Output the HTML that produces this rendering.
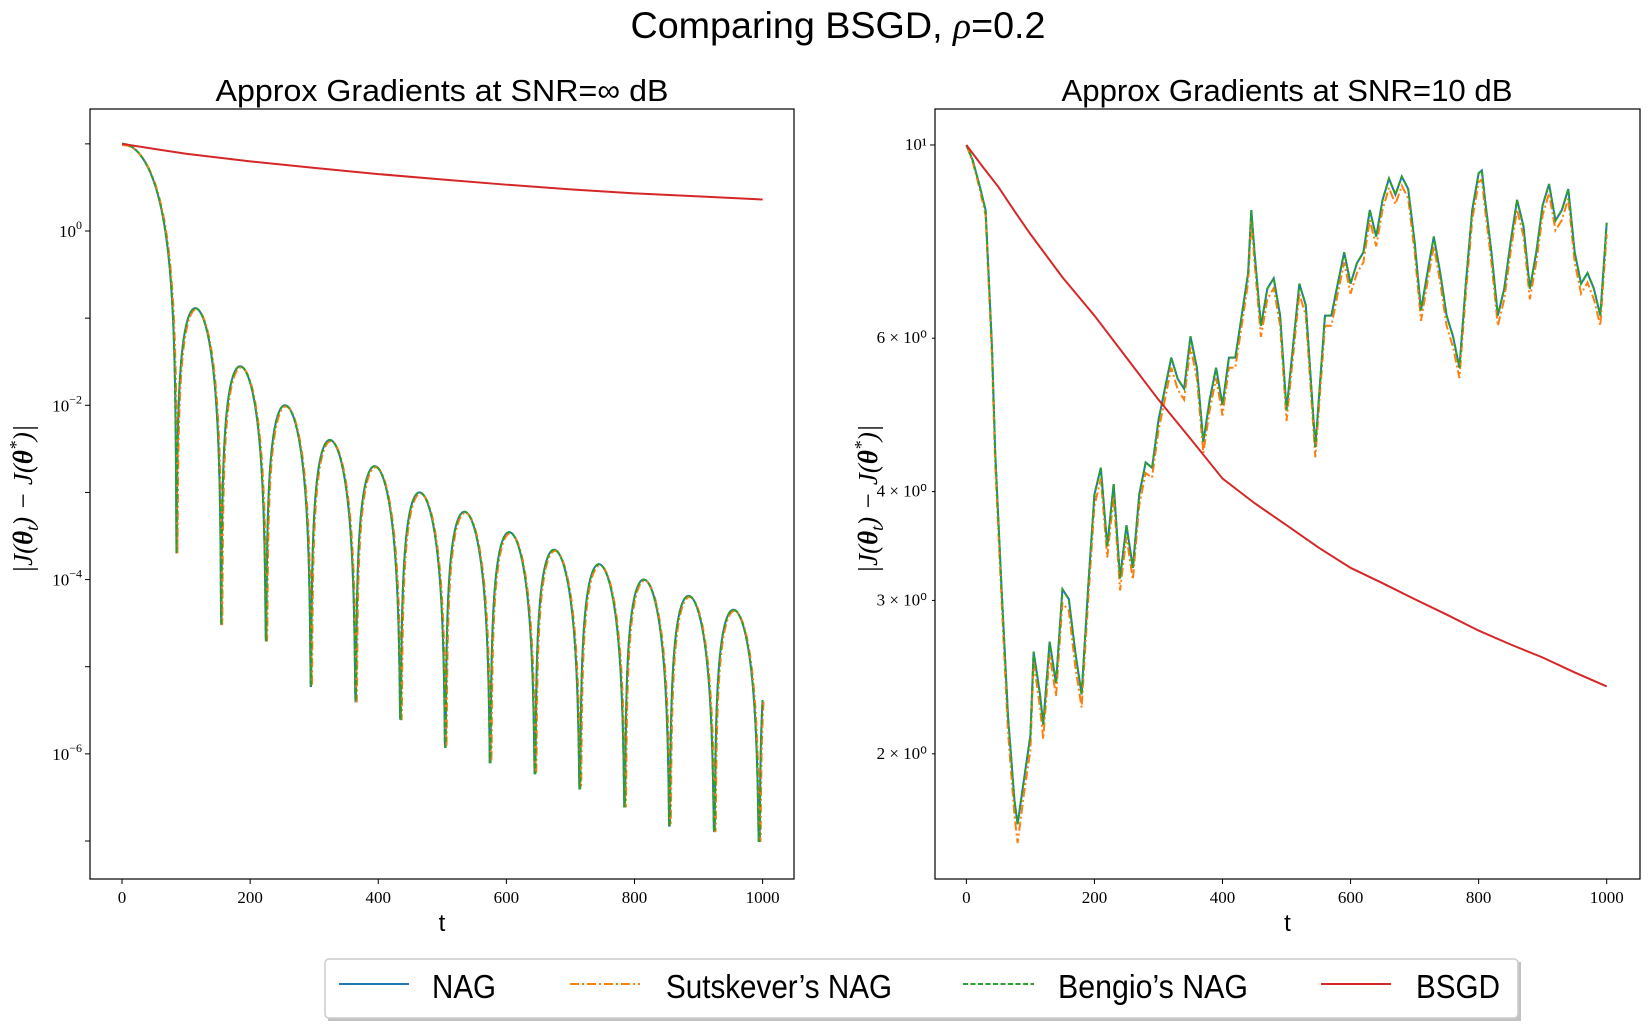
<!DOCTYPE html>
<html><head><meta charset="utf-8"><style>
html,body{margin:0;padding:0;background:#fff;}
svg{display:block;}
.tk{font-family:"Liberation Serif",serif;font-size:17px;fill:#000;}
.ttl{font-family:"Liberation Sans",sans-serif;fill:#000;}
</style></head><body>
<svg id="fig" width="1649" height="1027" viewBox="0 0 1649 1027" xmlns="http://www.w3.org/2000/svg">
<text class="ttl" x="838" y="38" font-size="37" text-anchor="middle" textLength="415" lengthAdjust="spacingAndGlyphs">Comparing BSGD, <tspan font-family="Liberation Serif" font-style="italic">ρ</tspan>=0.2</text>
<text class="ttl" x="442" y="101" font-size="31" text-anchor="middle" textLength="453" lengthAdjust="spacingAndGlyphs">Approx Gradients at SNR=∞ dB</text>
<text class="ttl" x="1287" y="101" font-size="31" text-anchor="middle" textLength="451" lengthAdjust="spacingAndGlyphs">Approx Gradients at SNR=10 dB</text>
<g id="left"></g>
<g id="right"></g>
<g>
<rect x="328" y="962" width="1193" height="59" fill="#999" opacity="0.6"/>
<rect x="325" y="959" width="1193" height="59" rx="4" fill="#fff" stroke="#ccc" stroke-width="1.5"/>
<g><line x1="339" y1="984" x2="409" y2="984" stroke="#1f77b4" stroke-width="2"/><text class="ttl" x="432" y="998" font-size="33" textLength="64" lengthAdjust="spacingAndGlyphs">NAG</text></g>
<g><line x1="570" y1="984" x2="640" y2="984" stroke="#ff7f0e" stroke-width="2" stroke-dasharray="9,3,2,3"/><text class="ttl" x="666" y="998" font-size="33" textLength="226" lengthAdjust="spacingAndGlyphs">Sutskever’s NAG</text></g>
<g><line x1="963" y1="984" x2="1034" y2="984" stroke="#2ca02c" stroke-width="2" stroke-dasharray="5,2.5"/><text class="ttl" x="1058" y="998" font-size="33" textLength="190" lengthAdjust="spacingAndGlyphs">Bengio’s NAG</text></g>
<g><line x1="1321" y1="984" x2="1391" y2="984" stroke="#d62728" stroke-width="2"/><text class="ttl" x="1416" y="998" font-size="33" textLength="84" lengthAdjust="spacingAndGlyphs">BSGD</text></g>
</g>
</svg>
<script>
// ---- left chart data ----
const leftStart = 10;
const leftDipT = [85,155,225,295,365,435,505,575,645,715,785,855,925,995];
const leftDipV = [2e-4,3e-5,2e-5,6e-6,4e-6,2.5e-6,1.2e-6,8e-7,6e-7,4e-7,2.5e-7,1.5e-7,1.3e-7,1e-7];
const leftPeakV = [0.13,0.028,0.01,0.004,0.002,0.001,6e-4,3.5e-4,2.2e-4,1.5e-4,1e-4,6.5e-5,4.5e-5,3e-5];
const leftBsgdT = [0,50,100,200,300,400,500,600,700,800,900,1000];
const leftBsgdV = [10,8.75,7.7,6.3,5.3,4.5,3.9,3.4,3.0,2.7,2.5,2.3];
// ---- right chart data ----
const rightT = [0,10,20,30,40,45,55,65,75,80,90,100,105,115,120,130,140,150,160,170,180,190,200,210,220,230,240,250,260,270,280,290,300,310,320,330,340,350,360,370,380,390,400,410,420,430,440,445,450,460,470,480,490,500,510,520,530,545,560,570,580,590,600,610,620,630,640,650,660,670,680,690,700,710,720,730,740,750,760,770,780,790,800,805,810,820,830,840,850,860,870,880,890,900,910,920,930,940,950,960,970,980,990,1000];
const rightNagV = [10,9.6,9.02,8.42,5.86,4.44,3.09,2.21,1.77,1.66,1.87,2.10,2.62,2.34,2.16,2.69,2.41,3.09,3.01,2.62,2.34,3.09,3.97,4.26,3.46,4.08,3.18,3.66,3.27,3.97,4.32,4.26,4.83,5.25,5.70,5.39,5.25,6.03,5.55,4.56,5.10,5.55,5.03,5.70,5.70,6.37,7.13,8.42,7.53,6.20,6.84,7.03,6.37,4.96,5.86,6.93,6.55,4.50,6.37,6.37,6.93,7.53,6.93,7.32,7.53,8.42,7.85,8.65,9.15,8.77,9.20,8.90,7.74,6.46,7.13,7.85,7.13,6.37,6.03,5.55,6.93,8.42,9.28,9.35,8.65,7.53,6.37,6.84,7.74,8.65,8.07,6.84,7.53,8.53,9.02,8.19,8.42,8.90,7.53,6.93,7.13,6.84,6.37,8.14];
const rightSutsV = [10,9.55,8.95,8.3,5.7,4.3,3.0,2.12,1.7,1.58,1.8,2.02,2.55,2.26,2.08,2.6,2.33,2.98,2.92,2.52,2.26,2.98,3.85,4.14,3.36,3.95,3.08,3.55,3.17,3.86,4.2,4.15,4.7,5.1,5.55,5.24,5.1,5.86,5.4,4.43,4.96,5.4,4.89,5.55,5.55,6.2,6.95,8.2,7.33,6.02,6.65,6.85,6.2,4.82,5.7,6.75,6.37,4.38,6.2,6.2,6.75,7.33,6.75,7.13,7.33,8.2,7.65,8.43,8.93,8.55,8.98,8.68,7.54,6.28,6.95,7.65,6.95,6.2,5.86,5.4,6.75,8.2,9.06,9.13,8.43,7.33,6.2,6.65,7.54,8.43,7.86,6.65,7.33,8.31,8.8,7.98,8.2,8.68,7.33,6.75,6.95,6.65,6.2,7.9];
const rightBsgdT = [0,25,50,75,100,150,200,250,300,350,400,450,500,550,600,650,700,750,800,850,900,950,1000];
const rightBsgdV = [10,9.45,8.95,8.4,7.9,7.05,6.37,5.7,5.10,4.6,4.14,3.88,3.66,3.45,3.27,3.14,3.01,2.89,2.77,2.67,2.58,2.48,2.39];
const leftYTickExp = [0,-2,-4,-6];
const rightYTickV = [2,3,4,6,10];
const rightYTickLbl = ["2 × 10⁰","3 × 10⁰","4 × 10⁰","6 × 10⁰","10¹"];
const xTicks = [0,200,400,600,800,1000];

const NS="http://www.w3.org/2000/svg";
function mk(tag, attrs, parent){const e=document.createElementNS(NS,tag);for(const k in attrs)e.setAttribute(k,attrs[k]);parent.appendChild(e);return e;}

function axes(g, box, tmin, tmax, lmin, lmax){
  const sx=t=>box.x0+(t-tmin)/(tmax-tmin)*(box.x1-box.x0);
  const sy=v=>box.y1-(Math.log10(v)-lmin)/(lmax-lmin)*(box.y1-box.y0);
  return {sx,sy};
}
function pathFrom(pts){return pts.map((p,i)=>(i?'L':'M')+p[0].toFixed(2)+','+p[1].toFixed(2)).join('');}

function drawFrame(g, box, sx, side){
  const r=mk('rect',{x:box.x0,y:box.y0,width:box.x1-box.x0,height:box.y1-box.y0,fill:'none',stroke:'#000','stroke-width':1.2},g);
  
  
  xTicks.forEach(t=>{
    const x=sx(t);
    mk('line',{x1:x,y1:box.y1,x2:x,y2:box.y1+5,stroke:'#000','stroke-width':1},g);
    const tx=mk('text',{x:x,y:box.y1+24,'text-anchor':'middle',class:'tk'},g);
    tx.textContent=t;
    
    
  });
  const xl=mk('text',{x:(box.x0+box.x1)/2,y:box.y1+52,'text-anchor':'middle',class:'ttl','font-size':24},g);
  xl.textContent='t';
  
  
  const yl=mk('text',{x:0,y:0,'text-anchor':'middle','font-family':'Liberation Serif, serif','font-size':27,'font-style':'italic',transform:`translate(${box.x0-58},${(box.y0+box.y1)/2+5}) rotate(-90)`},g);
  yl.innerHTML='|J(<tspan font-weight="bold">θ</tspan><tspan font-size="18" dy="6">t</tspan><tspan dy="-6">) − J(</tspan><tspan font-weight="bold">θ</tspan><tspan font-size="18" dy="-10">*</tspan><tspan dy="10">)|</tspan>';
  
  
}

// LEFT
(function(){
  const g=document.getElementById('left');
  const box={x0:90,x1:794,y0:109,y1:879};
  const {sx,sy}=axes(g,box,-50,1049,-7.436,1.40);
  drawFrame(g,box,sx,'left');
  for(let e=-7;e<=1;e++){const y=sy(Math.pow(10,e));mk('line',{x1:box.x0,y1:y,x2:box.x0-5,y2:y,stroke:'#000'},g);}
  leftYTickExp.forEach(e=>{
    const t=mk('text',{x:box.x0-8,y:sy(Math.pow(10,e))+6,'text-anchor':'end',class:'tk'},g);
    t.innerHTML='10<tspan font-size="12" dy="-8">'+e.toString().replace('-','−')+'</tspan>';
    
    
  });
  function nagCurve(shift, scale){
    const pts=[];
    const d0=leftDipT[0];
    for(let t=0;t<=d0;t+=1){let v=leftStart*Math.pow(Math.cos(Math.PI/2*t/d0),2)*scale;v=Math.max(v,leftDipV[0]);pts.push([sx(t+ (t>5?shift:0)),sy(v)]);}
    for(let i=0;i<leftPeakV.length;i++){
      const a=leftDipT[i], b=(i+1<leftDipT.length)?leftDipT[i+1]:a+70;
      for(let t=a+0.5;t<=b;t+=0.5){
        if(t>1000) break;
        const u=(t-a)/(b-a);
        const w=Math.pow(u,0.8);
        let v=leftPeakV[i]*scale*Math.pow(Math.sin(Math.PI*w),2);
        const floorV=(t-a)<(b-t)?leftDipV[i]:leftDipV[Math.min(i+1,leftDipV.length-1)];
        v=Math.max(v,floorV);
        pts.push([sx(t+shift),sy(v)]);
      }
    }
    return pts;
  }
  const cl=mk('clipPath',{id:'clipL'},g);mk('rect',{x:box.x0,y:box.y0,width:box.x1-box.x0,height:box.y1-box.y0},cl);
  const s=mk('g',{'clip-path':'url(#clipL)'},g);
  const p1=mk('path',{d:pathFrom(nagCurve(0,1)),fill:'none',stroke:'#1f77b4','stroke-width':2},s);
  
  const p2=mk('path',{d:pathFrom(nagCurve(1.5,0.97)),fill:'none',stroke:'#ff7f0e','stroke-width':2,'stroke-dasharray':'9,3,2,3'},s);
  
  const p3=mk('path',{d:pathFrom(nagCurve(0,1)),fill:'none',stroke:'#2ca02c','stroke-width':2,'stroke-dasharray':'5,2.5'},s);
  
  const p4=mk('path',{d:pathFrom(leftBsgdT.map((t,i)=>[sx(t),sy(leftBsgdV[i])])),fill:'none',stroke:'#d62728','stroke-width':2},s);
  
})();

// RIGHT
(function(){
  const g=document.getElementById('right');
  const box={x0:935,x1:1640,y0:109,y1:879};
  const {sx,sy}=axes(g,box,-49,1052,0.1573,1.0413);
  drawFrame(g,box,sx,'right');
  rightYTickV.forEach((v,i)=>{
    const y=sy(v);
    mk('line',{x1:box.x0,y1:y,x2:box.x0-(v===10?5:3),y2:y,stroke:'#000'},g);
    const t=mk('text',{x:box.x0-8,y:y+5,'text-anchor':'end',class:'tk','font-size':v===10?17:12},g);
    t.textContent=rightYTickLbl[i];
    
    
  });
  const cl=mk('clipPath',{id:'clipR'},g);mk('rect',{x:box.x0,y:box.y0,width:box.x1-box.x0,height:box.y1-box.y0},cl);
  const s=mk('g',{'clip-path':'url(#clipR)'},g);
  const p1=mk('path',{d:pathFrom(rightT.map((t,i)=>[sx(t),sy(rightNagV[i])])),fill:'none',stroke:'#1f77b4','stroke-width':2},s);
  
  const p2=mk('path',{d:pathFrom(rightT.map((t,i)=>[sx(t),sy(rightSutsV[i])])),fill:'none',stroke:'#ff7f0e','stroke-width':2,'stroke-dasharray':'9,3,2,3'},s);
  
  const p3=mk('path',{d:pathFrom(rightT.map((t,i)=>[sx(t),sy(rightNagV[i])])),fill:'none',stroke:'#2ca02c','stroke-width':2,'stroke-dasharray':'5,2.5'},s);
  
  const p4=mk('path',{d:pathFrom(rightBsgdT.map((t,i)=>[sx(t),sy(rightBsgdV[i])])),fill:'none',stroke:'#d62728','stroke-width':2},s);
  
})();
</script>
</body></html>
